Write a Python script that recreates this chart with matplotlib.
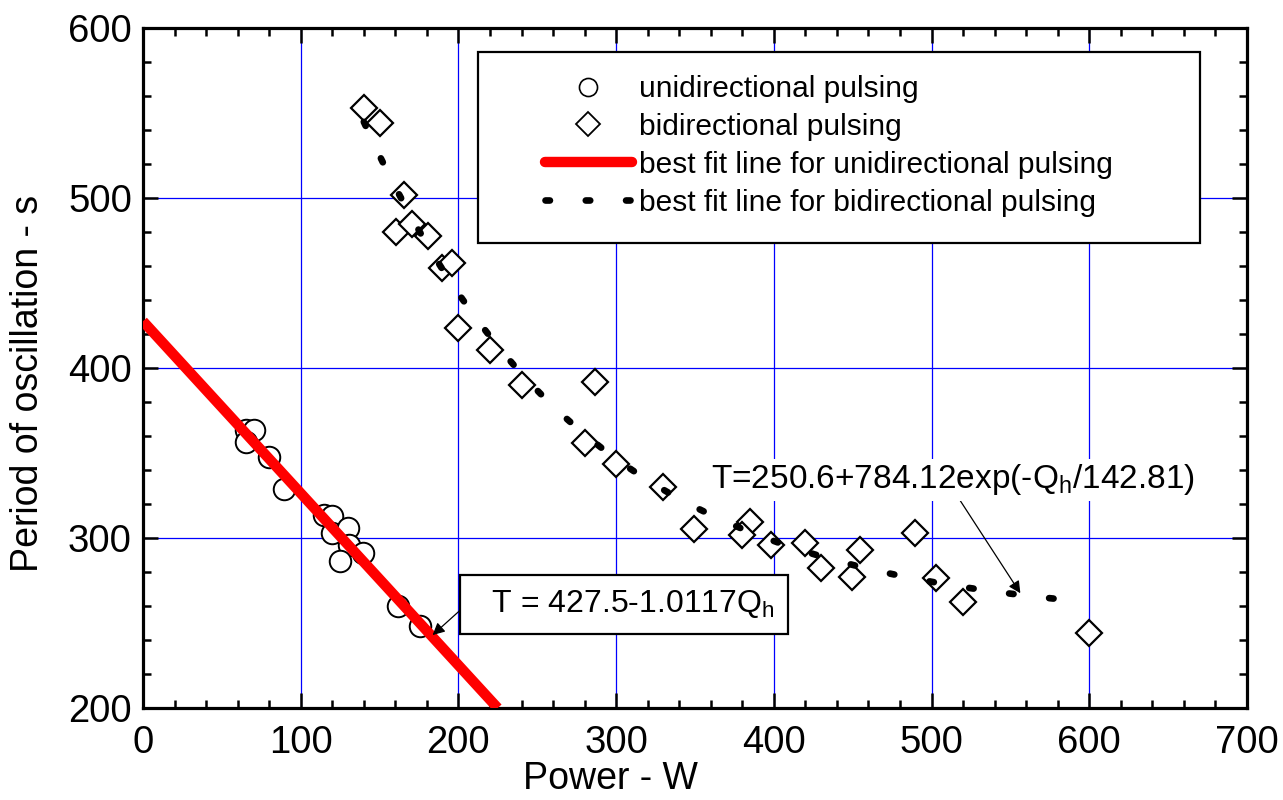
import numpy as np
import matplotlib
matplotlib.use("Agg")
import matplotlib.pyplot as plt
from matplotlib.lines import Line2D
from matplotlib.patches import Rectangle
from matplotlib.ticker import MultipleLocator

plt.rcParams['font.family'] = ['Liberation Sans', 'DejaVu Sans']
plt.rcParams['mathtext.fontset'] = 'custom'
plt.rcParams['mathtext.rm'] = 'Liberation Sans'
plt.rcParams['lines.scale_dashes'] = False

# ---- data ----
uni_power = [65.0, 70.3, 65.0, 79.8, 89.5, 114.5, 119.8, 119.8, 130.0, 130.4, 125.1, 139.8, 162.0, 175.7]
uni_period = [363.7, 363.7, 356.3, 347.5, 329.0, 313.7, 313.1, 302.9, 305.9, 296.1, 286.3, 291.2, 259.8, 248.0]

bi_power = [140.4, 150.5, 165.2, 160.4, 170.3, 180.4, 189.9, 196.2, 200.0, 220.0, 240.0, 286.8,
            280.1, 299.7, 329.5, 349.5, 384.7, 379.5, 398.4, 419.8, 429.6, 454.7, 449.4, 489.5,
            502.5, 519.8, 599.9]
bi_period = [552.9, 544.1, 502.0, 479.8, 484.7, 477.5, 458.8, 461.8, 423.5, 410.4, 390.2, 391.8,
             355.9, 343.6, 329.8, 305.3, 309.2, 302.0, 296.1, 297.2, 282.3, 293.0, 277.2, 303.2,
             276.4, 262.4, 244.3]

# fit parameters (from the chart's equations)
lin_a, lin_b = 427.5, 1.0117
exp_a, exp_b, exp_c = 250.6, 784.12, 142.81
lin_range = [0.0, 224.9]
exp_range = [140.0, 585.0]

xlim = [0, 700]
ylim = [200, 600]

fig = plt.figure(figsize=(12.83, 8.0), dpi=100)
ax = fig.add_axes([143/1283, 1-708/800, (1247-143)/1283, (708-28)/800])

# grid
ax.set_xlim(xlim)
ax.set_ylim(ylim)
ax.xaxis.set_major_locator(MultipleLocator(100))
ax.xaxis.set_minor_locator(MultipleLocator(20))
ax.yaxis.set_major_locator(MultipleLocator(100))
ax.yaxis.set_minor_locator(MultipleLocator(20))
ax.grid(True, which='major', color='#0000FF', linewidth=0.9, zorder=0)
ax.set_axisbelow(True)

# data
ax.plot(uni_power, uni_period, linestyle='none', marker='o', ms=15.5, mfc='white', mec='black',
        mew=1.4, zorder=2)
ax.plot(bi_power, bi_period, linestyle='none', marker='D', ms=13.5, mfc='white', mec='black',
        mew=1.6, zorder=3)

xl = np.linspace(lin_range[0], lin_range[1], 50)
ax.plot(xl, lin_a - lin_b * xl, color='#FF0000', linewidth=7.5, solid_capstyle='butt', zorder=4)

xe = np.linspace(exp_range[0], exp_range[1], 400)
fit_line, = ax.plot(xe, exp_a + exp_b * np.exp(-xe / exp_c), color='black', linewidth=4.8,
                    dash_capstyle='round', zorder=5)
fit_line.set_dashes((3.2, 25.8))

# ticks
for side in ['top', 'bottom', 'left', 'right']:
    ax.spines[side].set_linewidth(2.3)
ax.tick_params(which='both', direction='in', top=True, right=True, width=1.8)
ax.tick_params(which='major', length=11)
ax.tick_params(which='minor', length=6)
ax.tick_params(axis='x', which='major', labelsize=27.5, pad=12)
ax.tick_params(axis='y', which='major', labelsize=27.5, pad=8)

ax.set_xlabel('Power - W', fontsize=27)
ax.set_ylabel('Period of oscillation - s', fontsize=27)
ax.xaxis.set_label_coords((610-143)/1104, -0.078)
ax.yaxis.set_label_coords(-0.088, 0.478)

# annotations
ax.annotate(r'T=250.6+784.12exp(-Q$_\mathregular{h}$/142.81)', xy=(556.3, 267.5),
            xytext=(360.4, 329.2), fontsize=24, ha='left', va='baseline',
            bbox=dict(boxstyle='square,pad=0.1', fc='white', ec='none'),
            arrowprops=dict(arrowstyle='-|>', color='black', lw=0.9, mutation_scale=18,
                            shrinkA=0, shrinkB=0, relpos=(0.51, 0.0)),
            zorder=6)

ax.annotate('', xy=(183.6, 242.9), xytext=(203.6, 259.6),
            arrowprops=dict(arrowstyle='-|>', color='black', lw=0.9, mutation_scale=18,
                            shrinkA=0, shrinkB=0), zorder=6)
ax.text(305.0, 261.0, r'  T = 427.5-1.0117Q$_\mathregular{h}$', fontsize=23, ha='center',
        va='center',
        bbox=dict(boxstyle='square,pad=0.42', fc='white', ec='black', lw=1.6), zorder=7)

# legend
ax.add_patch(Rectangle(((478-143)/1104, 1-(243-28)/680), (1200-478)/1104, (243-52)/680,
                       transform=ax.transAxes, fc='white', ec='black', lw=1.6, zorder=8))
handles = [
    Line2D([], [], linestyle='none', marker='o', ms=13, mfc='white', mec='black', mew=1.2),
    Line2D([], [], linestyle='none', marker='D', ms=12, mfc='white', mec='black', mew=1.3),
    Line2D([], [], color='#FF0000', linewidth=7.5, solid_capstyle='round'),
    Line2D([], [], color='black', linewidth=4.8, dash_capstyle='round', dashes=(3.2, 25.8)),
]
labels = ['unidirectional pulsing', 'bidirectional pulsing',
          'best fit line for unidirectional pulsing', 'best fit line for bidirectional pulsing']
leg = ax.legend(handles, labels, loc='upper left', frameon=False, fontsize=21.5,
                bbox_to_anchor=((545-143)/1104, 1-(75-28)/680), borderaxespad=0, borderpad=0,
                handlelength=2.9, handletextpad=0.25, labelspacing=0.33)
leg.set_zorder(9)

fig.savefig('out.png', dpi=100)
